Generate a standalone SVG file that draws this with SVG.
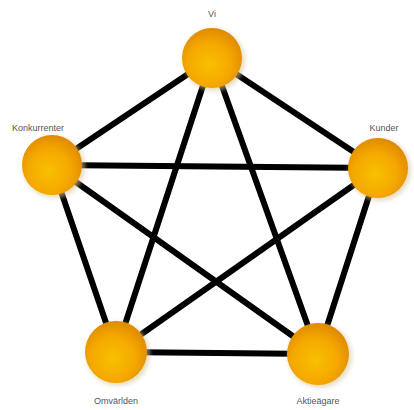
<svg xmlns="http://www.w3.org/2000/svg" width="414" height="410" viewBox="0 0 414 410">
<defs>
<radialGradient id="g" cx="45%" cy="60%" r="60%">
<stop offset="0" stop-color="#f8c000"/>
<stop offset="0.6" stop-color="#f5a800"/>
<stop offset="1" stop-color="#e08a00"/>
</radialGradient>
<filter id="s" x="-30%" y="-30%" width="160%" height="160%"><feGaussianBlur stdDeviation="2"/></filter>
</defs>
<style>
.e{stroke:#000;stroke-width:6;stroke-linecap:round}
.n{fill:url(#g)}
.sh{fill:#d8c8a0;opacity:0.6;filter:url(#s)}
.t{font-family:"Liberation Sans",Arial,sans-serif;font-size:9px;fill:#555;text-anchor:middle}
</style>
<rect width="414" height="410" fill="#fff"/>
<g id="connectors">
<line class="e" x1="212" y1="58" x2="52" y2="165"/>
<line class="e" x1="212" y1="58" x2="378" y2="168"/>
<line class="e" x1="212" y1="58" x2="116" y2="352"/>
<line class="e" x1="212" y1="58" x2="318" y2="354"/>
<line class="e" x1="52" y1="165" x2="378" y2="168"/>
<line class="e" x1="52" y1="165" x2="116" y2="352"/>
<line class="e" x1="52" y1="165" x2="318" y2="354"/>
<line class="e" x1="378" y1="168" x2="116" y2="352"/>
<line class="e" x1="378" y1="168" x2="318" y2="354"/>
<line class="e" x1="116" y1="352" x2="318" y2="354"/>
</g>
<g id="vi"><circle class="sh" cx="214" cy="60" r="31"/><circle class="n" cx="212" cy="58" r="30"/><text class="t" x="212" y="17">Vi</text></g>
<g id="konkurrenter"><circle class="sh" cx="54" cy="167" r="31"/><circle class="n" cx="52" cy="165" r="30"/><text class="t" x="38" y="131">Konkurrenter</text></g>
<g id="kunder"><circle class="sh" cx="380" cy="170" r="31"/><circle class="n" cx="378" cy="168" r="30"/><text class="t" x="384" y="131">Kunder</text></g>
<g id="omvarlden"><circle class="sh" cx="118" cy="354" r="32"/><circle class="n" cx="116" cy="352" r="31"/><text class="t" x="116" y="404">Omvärlden</text></g>
<g id="aktieagare"><circle class="sh" cx="320" cy="356" r="32"/><circle class="n" cx="318" cy="354" r="31"/><text class="t" x="318" y="404">Aktieägare</text></g>
</svg>
